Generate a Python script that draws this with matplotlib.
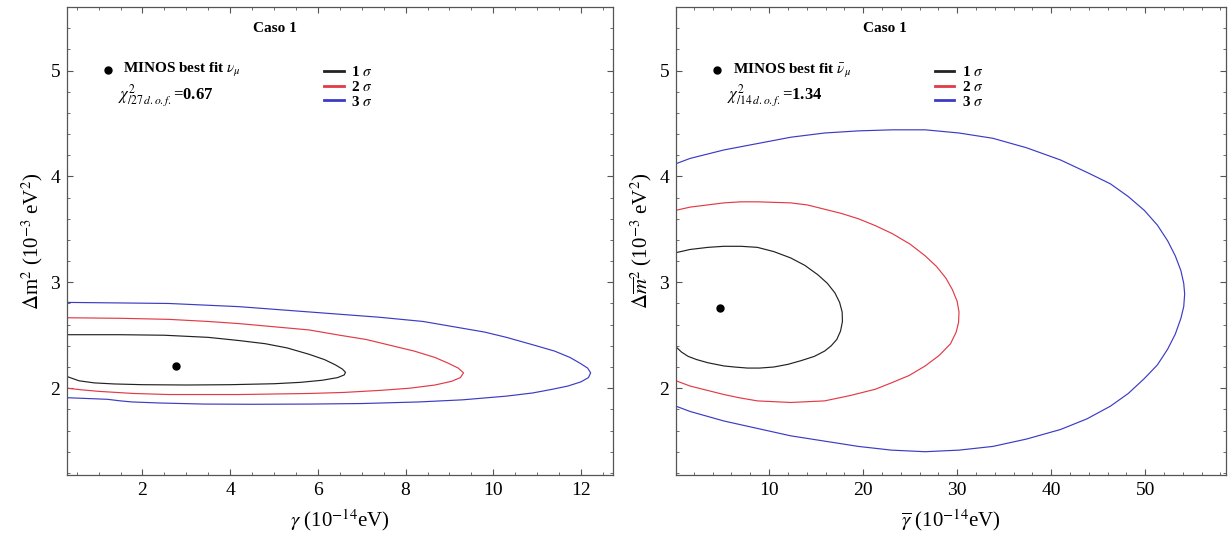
import matplotlib
matplotlib.use("Agg")
import matplotlib.pyplot as plt
from matplotlib.ticker import MultipleLocator
from matplotlib.lines import Line2D

plt.rcParams['font.family'] = ['Liberation Serif', 'DejaVu Serif']
plt.rcParams['mathtext.fontset'] = 'stix'

# ---- left panel: gamma vs dm^2 (neutrinos) ----
nu_best = (2.77, 2.21)
nu_1s_x = [0.28, 1.5, 2.5, 3.5, 4.2, 4.8, 5.3, 5.8, 6.15, 6.4, 6.56, 6.63,
           6.60, 6.45, 6.1, 5.6, 5.0, 4.0, 3.0, 2.0, 1.35, 0.9, 0.55, 0.28]
nu_1s_y = [2.505, 2.505, 2.50, 2.48, 2.45, 2.42, 2.38, 2.32, 2.27, 2.22, 2.18, 2.15,
           2.125, 2.10, 2.075, 2.055, 2.042, 2.033, 2.03, 2.033, 2.04, 2.05, 2.07, 2.11]
nu_2s_x = [0.28, 1.5, 2.6, 3.5, 4.2, 5.0, 5.8, 6.5, 7.1, 7.7, 8.2, 8.67, 8.95, 9.2, 9.32,
           9.25, 9.05, 8.67, 8.1, 7.45, 6.6, 5.8, 4.2, 2.6, 1.8, 1.0, 0.6, 0.28]
nu_2s_y = [2.665, 2.66, 2.65, 2.63, 2.61, 2.58, 2.55, 2.50, 2.46, 2.40, 2.35, 2.29, 2.24, 2.19, 2.145,
           2.10, 2.065, 2.03, 2.00, 1.98, 1.96, 1.95, 1.94, 1.94, 1.95, 1.97, 1.985, 2.00]
nu_3s_x = [0.28, 1.5, 2.6, 4.2, 5.8, 7.4, 8.4, 9.1, 9.8, 10.3, 10.9, 11.4, 11.75, 12.0, 12.15, 12.22,
           12.17, 12.0, 11.7, 11.35, 10.9, 10.3, 9.3, 8.3, 7.0, 5.8, 4.5, 3.4, 2.4, 1.76, 1.5, 1.2, 0.28]
nu_3s_y = [2.81, 2.805, 2.80, 2.77, 2.72, 2.67, 2.63, 2.58, 2.53, 2.48, 2.41, 2.35, 2.29, 2.23, 2.19, 2.145,
           2.10, 2.06, 2.02, 1.99, 1.955, 1.925, 1.89, 1.87, 1.855, 1.85, 1.848, 1.85, 1.86, 1.87, 1.88, 1.895, 1.91]

# ---- right panel: gamma-bar vs dm-bar^2 (antineutrinos) ----
anu_best = (4.82, 2.755)
anu_1s_x = [0.1, 1.6, 3.5, 5.2, 7.0, 8.75, 10.5, 12.3, 13.8, 15.2, 16.2, 17.0, 17.5, 17.77, 17.8, 17.6,
            17.2, 16.6, 15.9, 14.8, 13.4, 12.0, 10.5, 9.0, 7.7, 6.3, 5.2, 3.5, 2.3, 1.4, 0.7, 0.1]
anu_1s_y = [3.28, 3.31, 3.33, 3.34, 3.34, 3.33, 3.29, 3.23, 3.16, 3.07, 2.99, 2.90, 2.81, 2.72, 2.63, 2.54,
            2.46, 2.40, 2.35, 2.30, 2.26, 2.225, 2.20, 2.19, 2.19, 2.20, 2.21, 2.24, 2.27, 2.30, 2.34, 2.39]
anu_2s_x = [0.1, 1.6, 3.4, 5.2, 7.0, 8.75, 10.5, 12.3, 14.1, 15.9, 17.7, 19.5, 21.3, 23.1, 25.0, 26.6,
            27.8, 28.8, 29.5, 30.0, 30.2, 30.15, 29.9, 29.3, 28.1, 26.6, 24.9, 23.0, 21.3, 18.6, 15.9,
            12.3, 8.75, 6.8, 5.2, 3.4, 1.6, 0.1]
anu_2s_y = [3.68, 3.71, 3.73, 3.75, 3.76, 3.76, 3.755, 3.75, 3.73, 3.69, 3.65, 3.60, 3.535, 3.46, 3.36, 3.25,
            3.15, 3.04, 2.93, 2.82, 2.72, 2.62, 2.53, 2.42, 2.31, 2.21, 2.12, 2.05, 1.99, 1.93, 1.88,
            1.865, 1.88, 1.91, 1.94, 1.98, 2.02, 2.07]
anu_3s_x = [0.1, 1.6, 5.2, 8.75, 12.3, 15.9, 19.5, 23.1, 26.6, 30.2, 33.8, 37.4, 41.0, 44.0, 46.3, 48.2,
            49.9, 51.3, 52.4, 53.2, 53.8, 54.1, 54.2, 54.1, 53.8, 53.2, 52.4, 51.3, 49.9, 48.2, 46.3,
            43.8, 41.0, 37.4, 33.8, 30.2, 26.6, 23.0, 19.5, 15.9, 12.3, 8.75, 5.2, 1.6, 0.1]
anu_3s_y = [4.12, 4.17, 4.25, 4.31, 4.37, 4.41, 4.43, 4.44, 4.44, 4.41, 4.36, 4.27, 4.155, 4.03, 3.93, 3.81,
            3.68, 3.54, 3.39, 3.25, 3.11, 2.99, 2.89, 2.77, 2.66, 2.51, 2.37, 2.22, 2.09, 1.95, 1.83,
            1.71, 1.61, 1.52, 1.45, 1.415, 1.40, 1.415, 1.45, 1.50, 1.55, 1.62, 1.69, 1.78, 1.83]

sigma_labels = [r'1 $\sigma$', r'2 $\sigma$', r'3 $\sigma$']
sigma_colors = ['#222222', '#e23a46', '#3b3bc6']

fig = plt.figure(figsize=(12.28, 5.42), dpi=100)
ax1 = fig.add_axes([0.0546, 0.1236, 0.4446, 0.8635])
ax2 = fig.add_axes([0.5505, 0.1236, 0.4479, 0.8635])


def style(ax, xmin, xmax, xmaj, xmin_step):
    ax.set_xlim(xmin, xmax)
    ax.set_ylim(1.18, 5.6)
    ax.xaxis.set_major_locator(MultipleLocator(xmaj))
    ax.xaxis.set_minor_locator(MultipleLocator(xmin_step))
    ax.yaxis.set_major_locator(MultipleLocator(1))
    ax.yaxis.set_minor_locator(MultipleLocator(0.2))
    ax.tick_params(which='both', direction='in', top=True, right=True, labelsize=14, pad=5, color='#555555')
    ax.tick_params(which='major', length=4, width=0.8)
    ax.tick_params(which='minor', length=2, width=0.6)
    for s in ax.spines.values():
        s.set_color('#555555')
        s.set_linewidth(0.9)


style(ax1, 0.28, 12.73, 2, 0.5)
style(ax2, 0.1, 58.6, 10, 2)

for ax, curves, best in [
    (ax1, [(nu_1s_x, nu_1s_y), (nu_2s_x, nu_2s_y), (nu_3s_x, nu_3s_y)], nu_best),
    (ax2, [(anu_1s_x, anu_1s_y), (anu_2s_x, anu_2s_y), (anu_3s_x, anu_3s_y)], anu_best),
]:
    for (cx, cy), c in zip(curves, sigma_colors):
        ax.plot(cx, cy, color=c, lw=0.85, solid_joinstyle='round')
    ax.plot(*best, 'o', color='black', ms=5)

ax1.set_xlabel(r'$\gamma$ (10$^{-14}$eV)', fontsize=15, labelpad=6)
ax1.set_ylabel(r'$\Delta$m$^2$ (10$^{-3}$ eV$^2$)', fontsize=15, labelpad=4)
ax2.set_xlabel(r'$\overline{\gamma}$ (10$^{-14}$eV)', fontsize=15, labelpad=6)
ax2.set_ylabel(r'$\Delta\overline{m}^2$ (10$^{-3}$ eV$^2$)', fontsize=15, labelpad=4)

# annotations (in axes fraction)
for ax, fitlab, chi in [
    (ax1, r'MINOS best fit $\nu_\mu$', r'$\chi^2_{/27\,d.o.f.}$=0.67'),
    (ax2, r'MINOS best fit $\bar{\nu}_\mu$', r'$\chi^2_{/14\,d.o.f.}$=1.34'),
]:
    ax.text(0.38, 0.955, 'Caso 1', transform=ax.transAxes, fontsize=11, fontweight='bold',
            ha='center', va='center')
    ax.plot([0.075], [0.865], 'o', color='black', ms=5, transform=ax.transAxes, clip_on=False)
    ax.text(0.103, 0.865, fitlab, transform=ax.transAxes, fontsize=11, fontweight='bold', va='center')
    ax.text(0.093, 0.813, chi, transform=ax.transAxes, fontsize=12, fontweight='bold', va='center')
    handles = [Line2D([0], [0], color=c, lw=2) for c in sigma_colors]
    leg = ax.legend(handles, sigma_labels, loc='upper left', bbox_to_anchor=(0.445, 0.905),
                    frameon=False, handlelength=1.3, handletextpad=0.5, labelspacing=0.05,
                    prop={'weight': 'bold', 'size': 11})

fig.savefig('out.png', dpi=100)
